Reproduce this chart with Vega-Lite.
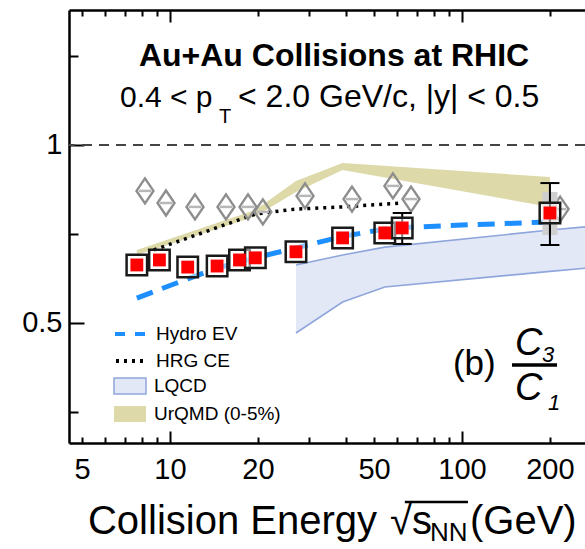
{
  "$schema": "https://vega.github.io/schema/vega-lite/v6.json",
  "width": 516,
  "height": 433,
  "autosize": "none",
  "padding": {"left": 69, "top": 10, "right": 0, "bottom": 106},
  "config": {
    "view": {"stroke": null},
    "font": "Liberation Sans",
    "text": {"font": "Liberation Sans", "color": "#000"}
  },
  "datasets": {
    "one": [{}],
    "star": [
      {"E": 7.7, "v": 0.663}, {"E": 9.2, "v": 0.677}, {"E": 11.5, "v": 0.657},
      {"E": 14.5, "v": 0.66}, {"E": 17.3, "v": 0.677}, {"E": 19.6, "v": 0.683},
      {"E": 27, "v": 0.70}, {"E": 39, "v": 0.739}, {"E": 54.4, "v": 0.753},
      {"E": 62.4, "v": 0.767}, {"E": 200, "v": 0.809}
    ],
    "err": [
      {"E": 62.4, "lo": 0.722, "hi": 0.809},
      {"E": 200, "lo": 0.719, "hi": 0.893}
    ],
    "sys200": [{"E": 200, "lo": 0.747, "hi": 0.868}],
    "diam": [
      {"E": 8.21, "v": 0.871}, {"E": 9.69, "v": 0.837}, {"E": 12.18, "v": 0.826},
      {"E": 15.55, "v": 0.826}, {"E": 18.5, "v": 0.826}, {"E": 20.8, "v": 0.812},
      {"E": 29.0, "v": 0.857}, {"E": 42.0, "v": 0.848}, {"E": 58.0, "v": 0.885},
      {"E": 66.9, "v": 0.848}, {"E": 216.7, "v": 0.820}
    ],
    "hydro": [
      {"model": "Hydro EV", "E": 7.7, "v": 0.570}, {"model": "Hydro EV", "E": 11.5, "v": 0.624},
      {"model": "Hydro EV", "E": 14.5, "v": 0.654}, {"model": "Hydro EV", "E": 19.6, "v": 0.683},
      {"model": "Hydro EV", "E": 27, "v": 0.711}, {"model": "Hydro EV", "E": 39, "v": 0.743},
      {"model": "Hydro EV", "E": 54.4, "v": 0.764}, {"model": "Hydro EV", "E": 62.4, "v": 0.768},
      {"model": "Hydro EV", "E": 100, "v": 0.775}, {"model": "Hydro EV", "E": 200, "v": 0.784}
    ],
    "hrg": [
      {"model": "HRG CE", "E": 8.8, "v": 0.705}, {"model": "HRG CE", "E": 19.6, "v": 0.806},
      {"model": "HRG CE", "E": 27, "v": 0.82}, {"model": "HRG CE", "E": 39, "v": 0.826},
      {"model": "HRG CE", "E": 62.4, "v": 0.837}
    ],
    "urqmd": [
      {"model": "UrQMD (0-5%)", "E": 7.7, "lo": 0.691, "hi": 0.705},
      {"model": "UrQMD (0-5%)", "E": 19.6, "lo": 0.800, "hi": 0.817},
      {"model": "UrQMD (0-5%)", "E": 27, "lo": 0.868, "hi": 0.899},
      {"model": "UrQMD (0-5%)", "E": 39, "lo": 0.930, "hi": 0.949},
      {"model": "UrQMD (0-5%)", "E": 200, "lo": 0.826, "hi": 0.910}
    ],
    "lqcd": [
      {"model": "LQCD", "E": 27, "lo": 0.472, "hi": 0.663},
      {"model": "LQCD", "E": 39, "lo": 0.559, "hi": 0.691},
      {"model": "LQCD", "E": 54.4, "lo": 0.601, "hi": 0.713},
      {"model": "LQCD", "E": 200, "lo": 0.645, "hi": 0.761},
      {"model": "LQCD", "E": 300, "lo": 0.658, "hi": 0.774}
    ]
  },
  "resolve": {"axis": {"x": "independent"}},
  "layer": [
    {
      "data": {"name": "urqmd"},
      "mark": {"type": "area", "clip": true},
      "encoding": {
        "x": {"field": "E", "type": "quantitative",
          "scale": {"type": "log", "domain": [4.51, 263.7], "nice": false},
          "axis": {"orient": "bottom", "title": null, "grid": false,
            "values": [5, 6, 7, 8, 9, 10, 20, 30, 40, 50, 60, 70, 80, 90, 100, 200],
            "labelExpr": "indexof([5, 10, 20, 50, 100, 200], datum.value) >= 0 ? '' + datum.value : ''",
            "labelFont": "Liberation Sans", "labelFontSize": 29, "labelColor": "#000",
            "labelPadding": {"condition": {"test": "datum.value == 10 || datum.value == 100", "value": 24}, "value": 18},
            "labelFlush": false, "labelOverlap": false,
            "domainColor": "#000", "domainWidth": 2.5, "tickColor": "#000", "tickWidth": 2,
            "tickSize": {"condition": {"test": "datum.value == 10 || datum.value == 100", "value": -12}, "value": -6}}},
        "y": {"field": "hi", "type": "quantitative",
          "scale": {"domain": [0.163, 1.379], "nice": false, "zero": false},
          "axis": {"orient": "left", "title": null, "grid": false,
            "values": [0.25, 0.5, 0.75, 1, 1.25],
            "labelExpr": "datum.value == 1 ? '1' : datum.value == 0.5 ? '0.5' : ''",
            "labelFont": "Liberation Sans", "labelFontSize": 29, "labelColor": "#000",
            "labelPadding": 22, "labelFlush": false, "labelOverlap": false,
            "domainColor": "#000", "domainWidth": 2.5, "tickColor": "#000", "tickWidth": 2,
            "tickSize": {"condition": {"test": "datum.value == 1 || datum.value == 0.5", "value": -15}, "value": -9}}},
        "y2": {"field": "lo"},
        "fill": {"field": "model", "type": "nominal",
          "scale": {"domain": ["LQCD", "UrQMD (0-5%)"], "range": ["#e3e8f6", "#ddd9a9"]},
          "legend": {"orient": "none", "legendX": 44, "legendY": 359, "title": null,
            "symbolType": "M-1,-0.5H1V0.5H-1Z", "symbolSize": 1024, "symbolOpacity": 1,
            "symbolStrokeWidth": 1.5, "labelFont": "Liberation Sans", "labelFontSize": 19,
            "labelColor": "#000", "labelOffset": 7, "rowPadding": -5, "padding": 0, "labelLimit": 300,
            "encode": {"symbols": {"update": {"stroke": {"signal": "datum.value == 'LQCD' ? '#8fa6dc' : 'transparent'"}}}}}}
      }
    },
    {
      "data": {"name": "lqcd"},
      "mark": {"type": "area", "clip": true},
      "encoding": {
        "x": {"field": "E", "type": "quantitative", "axis": null},
        "y": {"field": "hi", "type": "quantitative"},
        "y2": {"field": "lo"},
        "fill": {"field": "model", "type": "nominal"}
      }
    },
    {
      "data": {"name": "lqcd"},
      "mark": {"type": "line", "clip": true, "color": "#8fa6dc", "strokeWidth": 1.6},
      "encoding": {
        "x": {"field": "E", "type": "quantitative", "axis": null},
        "y": {"field": "hi", "type": "quantitative"}
      }
    },
    {
      "data": {"name": "lqcd"},
      "mark": {"type": "line", "clip": true, "color": "#8fa6dc", "strokeWidth": 1.6},
      "encoding": {
        "x": {"field": "E", "type": "quantitative", "axis": null},
        "y": {"field": "lo", "type": "quantitative"}
      }
    },
    {
      "data": {"name": "one"},
      "mark": {"type": "rule", "color": "#444", "strokeWidth": 2, "strokeDash": [10, 7]},
      "encoding": {"y": {"datum": 1, "type": "quantitative"}}
    },
    {
      "data": {"name": "hrg"},
      "mark": {"type": "line", "strokeWidth": 3.5, "strokeCap": "butt"},
      "encoding": {
        "x": {"field": "E", "type": "quantitative", "axis": null},
        "y": {"field": "v", "type": "quantitative"},
        "stroke": {"field": "model", "type": "nominal",
          "scale": {"domain": ["Hydro EV", "HRG CE"], "range": ["#1e8fff", "#000000"]},
          "legend": {"orient": "none", "legendX": 44, "legendY": 307, "title": null,
            "symbolType": "stroke", "symbolSize": 900, "symbolStrokeWidth": 4, "symbolDashOffset": 7,
            "labelFont": "Liberation Sans", "labelFontSize": 19, "labelColor": "#000",
            "labelOffset": 9, "rowPadding": -3, "padding": 0, "labelLimit": 300}},
        "strokeDash": {"field": "model", "type": "nominal",
          "scale": {"domain": ["Hydro EV", "HRG CE"], "range": [[17, 10], [3, 5]]},
          "legend": {"orient": "none", "legendX": 44, "legendY": 307, "title": null,
            "symbolType": "stroke", "symbolSize": 900, "symbolStrokeWidth": 4, "symbolDashOffset": 7,
            "labelFont": "Liberation Sans", "labelFontSize": 19, "labelColor": "#000",
            "labelOffset": 9, "rowPadding": -3, "padding": 0, "labelLimit": 300}}
      }
    },
    {
      "data": {"name": "hydro"},
      "mark": {"type": "line", "strokeWidth": 5, "strokeCap": "butt"},
      "encoding": {
        "x": {"field": "E", "type": "quantitative",
          "axis": {"orient": "top", "title": null, "grid": false, "labels": false,
            "values": [5, 6, 7, 8, 9, 10, 20, 30, 40, 50, 60, 70, 80, 90, 100, 200],
            "domainColor": "#000", "domainWidth": 2.5, "tickColor": "#000", "tickWidth": 2,
            "tickSize": {"condition": {"test": "datum.value == 10 || datum.value == 100", "value": -12}, "value": -6}}},
        "y": {"field": "v", "type": "quantitative"},
        "stroke": {"field": "model", "type": "nominal"},
        "strokeDash": {"field": "model", "type": "nominal"}
      }
    },
    {
      "data": {"name": "diam"},
      "mark": {"type": "point", "shape": "M0,-1L0.68,0L0,1L-0.68,0Z", "size": 625, "filled": false, "stroke": "#8e8e8e", "strokeWidth": 2.4, "opacity": 1},
      "encoding": {
        "x": {"field": "E", "type": "quantitative", "axis": null},
        "y": {"field": "v", "type": "quantitative"}
      }
    },
    {
      "data": {"name": "diam"},
      "mark": {"type": "point", "shape": "M-0.5,-0.1H0.5V0.1H-0.5Z", "size": 625, "filled": true, "fill": "#b8b8b8", "opacity": 1},
      "encoding": {
        "x": {"field": "E", "type": "quantitative", "axis": null},
        "y": {"field": "v", "type": "quantitative"}
      }
    },
    {
      "data": {"name": "sys200"},
      "mark": {"type": "rule", "color": "#cfcfcf", "strokeWidth": 15},
      "encoding": {
        "x": {"field": "E", "type": "quantitative", "axis": null},
        "y": {"field": "lo", "type": "quantitative"},
        "y2": {"field": "hi"}
      }
    },
    {
      "data": {"name": "err"},
      "mark": {"type": "rule", "color": "#000", "strokeWidth": 2},
      "encoding": {
        "x": {"field": "E", "type": "quantitative", "axis": null},
        "y": {"field": "lo", "type": "quantitative"},
        "y2": {"field": "hi"}
      }
    },
    {
      "data": {"name": "err"},
      "mark": {"type": "point", "shape": "M-1,0L1,0", "size": 361, "filled": false, "stroke": "#000", "strokeWidth": 2, "opacity": 1},
      "encoding": {
        "x": {"field": "E", "type": "quantitative", "axis": null},
        "y": {"field": "lo", "type": "quantitative"}
      }
    },
    {
      "data": {"name": "err"},
      "mark": {"type": "point", "shape": "M-1,0L1,0", "size": 361, "filled": false, "stroke": "#000", "strokeWidth": 2, "opacity": 1},
      "encoding": {
        "x": {"field": "E", "type": "quantitative", "axis": null},
        "y": {"field": "hi", "type": "quantitative"}
      }
    },
    {
      "data": {"name": "star"},
      "mark": {"type": "point", "shape": "square", "size": 420, "filled": false, "fill": "#ffffff", "fillOpacity": 0.5, "stroke": "#1a1a1a", "strokeWidth": 2.5, "opacity": 1},
      "encoding": {
        "x": {"field": "E", "type": "quantitative", "axis": null},
        "y": {"field": "v", "type": "quantitative"}
      }
    },
    {
      "data": {"name": "star"},
      "mark": {"type": "point", "shape": "square", "size": 165, "filled": true, "fill": "#ff0000", "opacity": 1},
      "encoding": {
        "x": {"field": "E", "type": "quantitative", "axis": null},
        "y": {"field": "v", "type": "quantitative"}
      }
    },
    {
      "data": {"name": "one"},
      "mark": {"type": "text", "text": "Au+Au Collisions at RHIC", "fontSize": 32, "fontWeight": "bold", "align": "center", "baseline": "alphabetic"},
      "encoding": {"x": {"datum": 36.45, "type": "quantitative", "axis": null}, "y": {"datum": 1.222, "type": "quantitative"}}
    },
    {
      "data": {"name": "one"},
      "mark": {"type": "text", "text": "0.4 < p", "fontSize": 30, "align": "left", "baseline": "alphabetic"},
      "encoding": {"x": {"datum": 6.74, "type": "quantitative", "axis": null}, "y": {"datum": 1.107, "type": "quantitative"}}
    },
    {
      "data": {"name": "one"},
      "mark": {"type": "text", "text": "T", "fontSize": 20, "align": "left", "baseline": "alphabetic"},
      "encoding": {"x": {"datum": 14.72, "type": "quantitative", "axis": null}, "y": {"datum": 1.062, "type": "quantitative"}}
    },
    {
      "data": {"name": "one"},
      "mark": {"type": "text", "text": "< 2.0 GeV/c, |y| < 0.5", "fontSize": 32, "align": "left", "baseline": "alphabetic"},
      "encoding": {"x": {"datum": 17.1, "type": "quantitative", "axis": null}, "y": {"datum": 1.107, "type": "quantitative"}}
    },
    {
      "data": {"name": "one"},
      "mark": {"type": "text", "text": "(b)", "fontSize": 35, "align": "left", "baseline": "alphabetic"},
      "encoding": {"x": {"datum": 93.1, "type": "quantitative", "axis": null}, "y": {"datum": 0.354, "type": "quantitative"}}
    },
    {
      "data": {"name": "one"},
      "mark": {"type": "text", "text": "C", "fontSize": 38, "fontStyle": "italic", "align": "left", "baseline": "alphabetic"},
      "encoding": {"x": {"datum": 151.9, "type": "quantitative", "axis": null}, "y": {"datum": 0.41, "type": "quantitative"}}
    },
    {
      "data": {"name": "one"},
      "mark": {"type": "text", "text": "3", "fontSize": 22, "fontStyle": "italic", "align": "left", "baseline": "alphabetic"},
      "encoding": {"x": {"datum": 187.9, "type": "quantitative", "axis": null}, "y": {"datum": 0.39, "type": "quantitative"}}
    },
    {
      "data": {"name": "one"},
      "mark": {"type": "rule", "color": "#000", "strokeWidth": 3.5},
      "encoding": {"x": {"datum": 148.3, "type": "quantitative", "axis": null}, "x2": {"datum": 211.5}, "y": {"datum": 0.382, "type": "quantitative"}}
    },
    {
      "data": {"name": "one"},
      "mark": {"type": "text", "text": "C", "fontSize": 38, "fontStyle": "italic", "align": "left", "baseline": "alphabetic"},
      "encoding": {"x": {"datum": 151.9, "type": "quantitative", "axis": null}, "y": {"datum": 0.284, "type": "quantitative"}}
    },
    {
      "data": {"name": "one"},
      "mark": {"type": "text", "text": "1", "fontSize": 22, "fontStyle": "italic", "align": "left", "baseline": "alphabetic"},
      "encoding": {"x": {"datum": 197, "type": "quantitative", "axis": null}, "y": {"datum": 0.256, "type": "quantitative"}}
    },
    {
      "data": {"name": "one"},
      "mark": {"type": "text", "text": "Collision Energy", "fontSize": 40, "align": "left", "baseline": "alphabetic"},
      "encoding": {"x": {"datum": 5.238, "type": "quantitative", "axis": null}, "y": {"datum": -0.0927, "type": "quantitative"}}
    },
    {
      "data": {"name": "one"},
      "mark": {"type": "text", "text": "√s", "fontSize": 40, "align": "left", "baseline": "alphabetic"},
      "encoding": {"x": {"datum": 56.67, "type": "quantitative", "axis": null}, "y": {"datum": -0.0927, "type": "quantitative"}}
    },
    {
      "data": {"name": "one"},
      "mark": {"type": "rule", "color": "#000", "strokeWidth": 2.5},
      "encoding": {"x": {"datum": 63.7, "type": "quantitative", "axis": null}, "x2": {"datum": 104.8}, "y": {"datum": -0.0028, "type": "quantitative"}}
    },
    {
      "data": {"name": "one"},
      "mark": {"type": "text", "text": "NN", "fontSize": 26, "align": "left", "baseline": "alphabetic"},
      "encoding": {"x": {"datum": 77.7, "type": "quantitative", "axis": null}, "y": {"datum": -0.112, "type": "quantitative"}}
    },
    {
      "data": {"name": "one"},
      "mark": {"type": "text", "text": "(GeV)", "fontSize": 40, "align": "left", "baseline": "alphabetic"},
      "encoding": {"x": {"datum": 106.5, "type": "quantitative", "axis": null}, "y": {"datum": -0.0927, "type": "quantitative"}}
    }
  ]
}
